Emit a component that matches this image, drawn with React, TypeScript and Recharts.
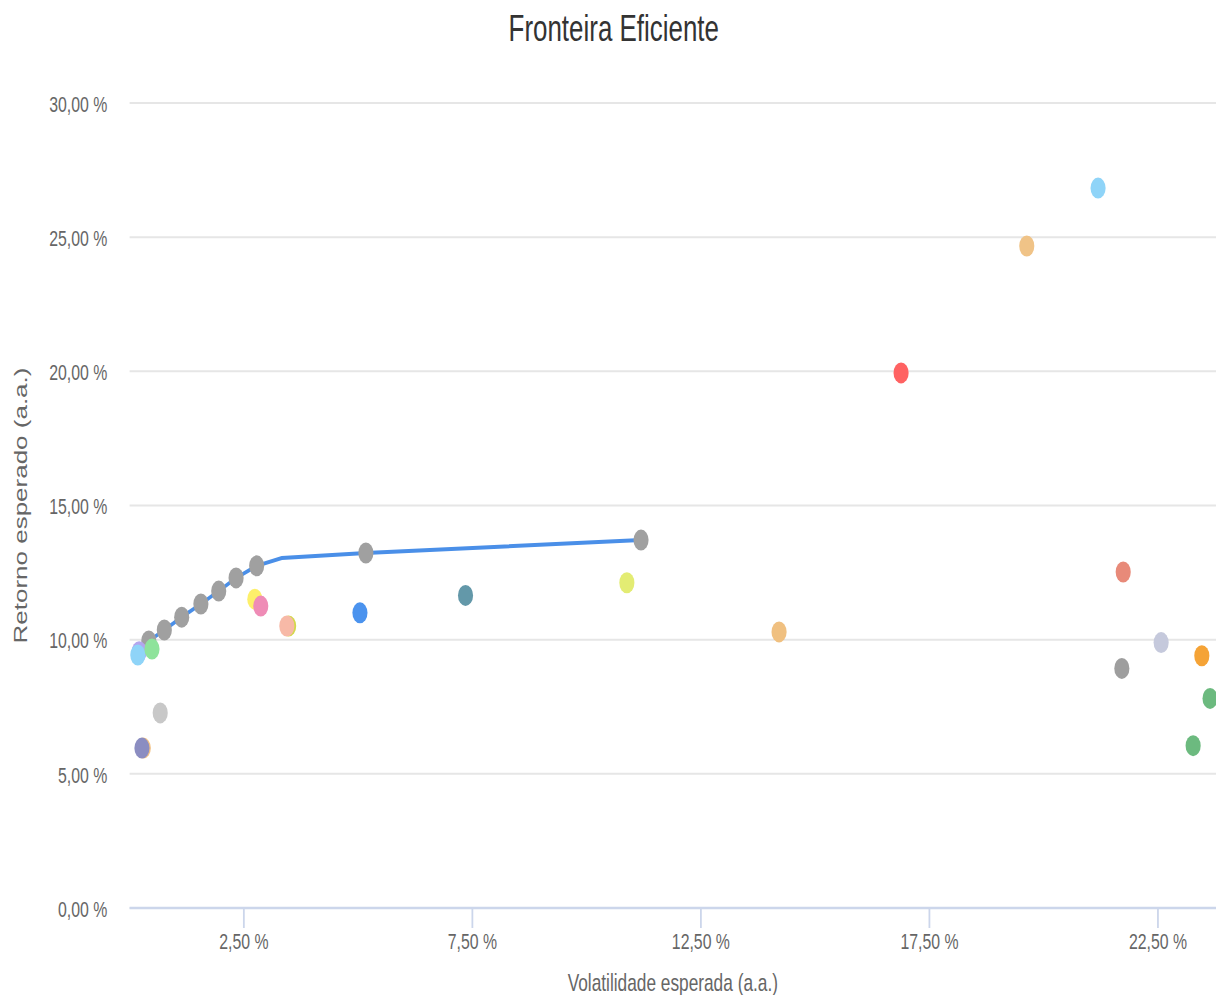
import { ComposedChart, Line, Scatter, Cell, XAxis, YAxis, CartesianGrid } from 'recharts';

// efficient frontier line (volatility %, return %)
const lineVol = [0.42, 0.76, 1.14, 1.56, 1.95, 2.33, 2.78, 3.33, 5.17, 11.19];
const lineRet = [9.95, 10.36, 10.84, 11.33, 11.81, 12.3, 12.75, 13.04, 13.23, 13.71];

// gray portfolios sitting on the frontier
const frontierVol = [0.42, 0.76, 1.14, 1.56, 1.95, 2.33, 2.78, 5.17, 11.19];
const frontierRet = [9.95, 10.36, 10.84, 11.33, 11.81, 12.3, 12.75, 13.23, 13.71];

// single assets
const assetVol = [0.21, 0.18, 0.49, 0.67, 0.3, 0.27, 2.74, 2.87, 3.48, 3.44, 5.04, 7.35, 10.88, 14.21, 16.88, 19.63, 21.19, 21.74, 21.71, 22.57, 23.46, 23.64, 23.27];
const assetRet = [9.55, 9.43, 9.65, 7.27, 5.96, 5.96, 11.51, 11.25, 10.51, 10.51, 11.0, 11.65, 12.12, 10.29, 19.94, 24.67, 26.83, 12.52, 8.93, 9.89, 9.4, 7.81, 6.05];
const assetColors = ['#b3a6ee', '#8fd4f8', '#8ee39b', '#c8c8c8', '#f2c184', '#8b8dc1', '#fdf06a', '#ef8cb6', '#d3d84c', '#f7b9a7', '#4b93ee', '#6398a9', '#e3ec73', '#f0c080', '#ff6262', '#f0c387', '#8fd4f8', '#e88a79', '#9e9e9e', '#c5c9dc', '#f5a336', '#6cba7f', '#6cba7f'];

const xTicks = [2.5, 7.5, 12.5, 17.5, 22.5];
const yTicks = [0, 5, 10, 15, 20, 25, 30];

const lineData = lineVol.map((x, i) => ({ x, y: lineRet[i] }));
const frontierData = frontierVol.map((x, i) => ({ x, y: frontierRet[i] }));
const assetData = assetVol.map((x, i) => ({ x, y: assetRet[i] }));

const pct = (v: number) => v.toFixed(2).replace('.', ',') + ' %';

// the whole chart is drawn wide and squeezed horizontally, like the reference
const SQUEEZE = 0.72;
const W = 1216 / SQUEEZE;
const H = 995;

const Dot = (props: any) => <circle cx={props.cx} cy={props.cy} r={10.5} fill={props.fill} />;

export default function App() {
  return (
    <div style={{ position: 'absolute', left: 0, top: 0, width: 1216, height: H, overflow: 'hidden', background: '#fff' }}>
      <div
        style={{
          position: 'relative',
          width: W,
          height: H,
          transform: `scaleX(${SQUEEZE})`,
          transformOrigin: 'left top',
          fontFamily: '"Liberation Sans", Arial, sans-serif',
        }}
      >
        <div
          style={{
            position: 'absolute',
            top: 10.5,
            left: 8,
            width: W,
            textAlign: 'center',
            fontSize: 36,
            lineHeight: '36px',
            color: '#333333',
          }}
        >
          Fronteira Eficiente
        </div>
        <ComposedChart width={W} height={H} margin={{ top: 103, right: 0, bottom: 0, left: 0 }}>
          <CartesianGrid vertical={false} stroke="#e6e6e6" strokeWidth={2} />
          <XAxis
            type="number"
            dataKey="x"
            domain={[0, 23.77]}
            ticks={xTicks}
            tickFormatter={pct}
            height={87}
            tickSize={20}
            tickMargin={5}
            axisLine={{ stroke: '#ccd6eb', strokeWidth: 2.5 }}
            tickLine={{ stroke: '#ccd6eb', strokeWidth: 2.5 }}
            tick={{ fill: '#666666', fontSize: 22 }}
            label={{ value: 'Volatilidade esperada (a.a.)', position: 'insideBottom', offset: 4, fill: '#666666', fontSize: 24 }}
          />
          <YAxis
            type="number"
            dataKey="y"
            domain={[0, 30]}
            ticks={yTicks}
            tickFormatter={pct}
            width={180}
            axisLine={false}
            tickLine={false}
            tickSize={0}
            tickMargin={31}
            tick={{ fill: '#666666', fontSize: 22, dy: 1 }}
            label={{
              value: 'Retorno esperado (a.a.)',
              angle: -90,
              position: 'insideLeft',
              offset: 28,
              fill: '#666666',
              fontSize: 26,
              style: { textAnchor: 'middle' },
            }}
          />
          <Line data={lineData} dataKey="y" type="linear" stroke="#4a8fe8" strokeWidth={4} dot={false} activeDot={false} isAnimationActive={false} />
          <Scatter data={frontierData} fill="#a0a0a0" shape={Dot} isAnimationActive={false} />
          <Scatter data={assetData} shape={Dot} isAnimationActive={false}>
            {assetData.map((_, i) => (
              <Cell key={i} fill={assetColors[i]} />
            ))}
          </Scatter>
        </ComposedChart>
      </div>
    </div>
  );
}
